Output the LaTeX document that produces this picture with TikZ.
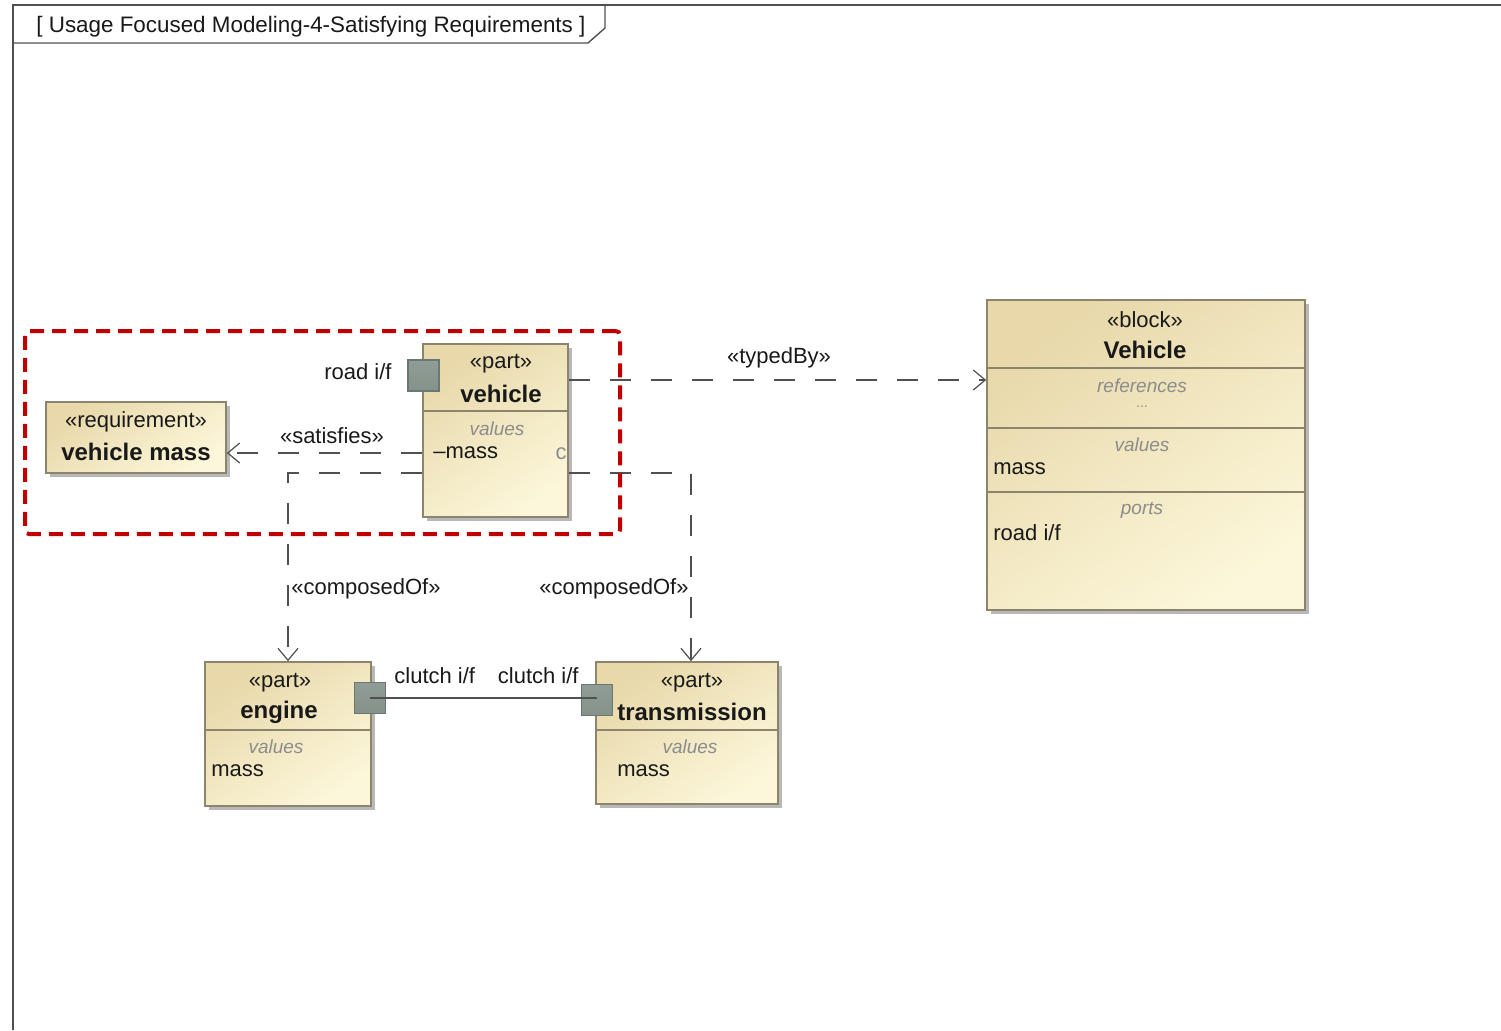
\documentclass[tikz,border=0pt]{standalone}
\usepackage{fontspec}
\setmainfont{Liberation Sans}
\usetikzlibrary{positioning, arrows.meta, fit, shadows}

\definecolor{boxtan}{RGB}{232,216,170}
\definecolor{boxcream}{RGB}{252,247,218}
\definecolor{boxline}{RGB}{140,132,108}
\definecolor{portfill}{RGB}{132,146,138}
\definecolor{portline}{RGB}{105,120,112}
\definecolor{linegrey}{RGB}{80,80,80}
\definecolor{textdark}{RGB}{25,25,25}
\definecolor{cmpgrey}{RGB}{140,140,140}
\definecolor{focusred}{RGB}{192,0,0}

\begin{document}
\begin{tikzpicture}[
    x=0.5pt, y=-0.5pt,
    >=Stealth,
    umlbox/.style={
        draw=boxline,
        line width=0.8pt,
        top color=boxtan,
        bottom color=boxcream,
        shading angle=35,
        inner sep=0pt,
        drop shadow={shadow xshift=2pt, shadow yshift=-2pt, fill=black!35, opacity=0.8}
    },
    port/.style={
        draw=portline,
        line width=0.6pt,
        top color=portfill!90!white,
        bottom color=portfill,
        inner sep=0pt,
        minimum width=15.5pt,
        minimum height=15.5pt
    },
    cmpline/.style={draw=boxline, line width=0.6pt},
    txt/.style={inner sep=0pt, text=textdark, font=\fontsize{11}{13}\selectfont},
    bold/.style={txt, font=\fontsize{12}{14}\selectfont\bfseries},
    cmp/.style={txt, text=cmpgrey, font=\fontsize{9.5}{11}\selectfont\itshape},
    dep/.style={
        draw=linegrey,
        line width=0.6pt,
        dash pattern=on 10.5pt off 10pt,
        -{Straight Barb[length=6pt, width=10pt]}
    },
    ifline/.style={draw=linegrey, line width=0.6pt},
    focusbox/.style={
        draw=focusred,
        line width=2pt,
        dash pattern=on 7pt off 4pt,
        rounded corners=2pt,
        inner sep=0pt
    }
]
    \useasboundingbox (0,0) rectangle (1501,1030);

    % diagram frame and title tab
    \draw[draw=linegrey, line width=0.9pt] (13,1030) -- (13,5) -- (1501,5);
    \draw[draw=linegrey, line width=0.7pt] (13,43) -- (588,43) -- (605,28) -- (605,5);
    \node[txt, anchor=west, font=\fontsize{11.2}{13}\selectfont] (title) at (36,27) {[ Usage Focused Modeling-4-Satisfying Requirements ]};

    % boxes
    \node[umlbox, fit={(46,402) (226,473)}] (req) {};
    \node[umlbox, fit={(423,344) (568,517)}] (veh) {};
    \node[umlbox, fit={(987,300) (1305,610)}] (blk) {};
    \node[umlbox, fit={(205,662) (371,806)}] (eng) {};
    \node[umlbox, fit={(596,662) (778,804)}] (trn) {};

    % compartments
    \draw[cmpline] (veh.west |- 0,411) -- (veh.east |- 0,411);
    \draw[cmpline] (blk.west |- 0,368) -- (blk.east |- 0,368);
    \draw[cmpline] (blk.west |- 0,428) -- (blk.east |- 0,428);
    \draw[cmpline] (blk.west |- 0,492) -- (blk.east |- 0,492);
    \draw[cmpline] (eng.west |- 0,730) -- (eng.east |- 0,730);
    \draw[cmpline] (trn.west |- 0,730) -- (trn.east |- 0,730);

    % requirement
    \node[txt] (reqst) at (136,422) {«requirement»};
    \node[bold] (reqnm) at (136,452) {vehicle mass};

    % part vehicle
    \node[txt] (vehst) at (501,364) {«part»};
    \node[bold] (vehnm) at (501,394) {vehicle};
    \node[cmp] (vehval) at (497,429) {values};
    \node[txt, anchor=west] (vehmass) at (433,453) {–mass};
    \node[txt, text=cmpgrey] (vehcut) at (561,454) {c};

    % block Vehicle
    \node[txt] (blkst) at (1145,320) {«block»};
    \node[bold] (blknm) at (1145,350) {Vehicle};
    \node[cmp] (blkref) at (1142,386) {references};
    \node[cmp, font=\fontsize{7}{8}\selectfont] (blkdots) at (1142,407) {...};
    \node[cmp] (blkval) at (1142,445) {values};
    \node[txt, anchor=west] (blkmass) at (993,469) {mass};
    \node[cmp] (blkprt) at (1142,510) {ports};
    \node[txt, anchor=west] (blkroad) at (993,533) {road i/f};

    % part engine
    \node[txt] (engst) at (280,683) {«part»};
    \node[bold] (engnm) at (279,712) {engine};
    \node[cmp] (engval) at (276,747) {values};
    \node[txt, anchor=west] (engmass) at (211,771) {mass};

    % part transmission
    \node[txt] (trnst) at (692,683) {«part»};
    \node[bold] (trnnm) at (692,712) {transmission};
    \node[cmp] (trnval) at (690,747) {values};
    \node[txt, anchor=west] (trnmass) at (617,771) {mass};

    % ports
    \node[port] (vehp) at (423.5,375.5) {};
    \node[port] (engp) at (370,698) {};
    \node[port] (trnp) at (597,700) {};
    \node[txt, anchor=east] (vehpl) at (392,372) {road i/f};
    \node[txt, anchor=west] (engpl) at (394,676) {clutch i/f};
    \node[txt, anchor=east] (trnpl) at (579,676) {clutch i/f};

    % connectors
    \draw[ifline] (engp.center) -- (engp.center -| trnp.center);
    \draw[dep] (veh.east |- 0,380) -- (blk.west |- 0,380);
    \draw[dep] (veh.west |- 0,453) -- (req.east |- 0,453);
    \draw[dep] (veh.west |- 0,473) -| (eng.north);
    \draw[dep] (veh.east |- 0,473) -| ([xshift=2pt]trn.north);
    \node[txt] (typlbl) at (779,358) {«typedBy»};
    \node[txt] (satlbl) at (332,436) {«satisfies»};
    \node[txt, anchor=west] (cmplbl1) at (291,589) {«composedOf»};
    \node[txt, anchor=east] (cmplbl2) at (689,589) {«composedOf»};

    % focus region
    \node[focusbox, fit={(25,331) (620,534)}] (focus) {};
\end{tikzpicture}
\end{document}
